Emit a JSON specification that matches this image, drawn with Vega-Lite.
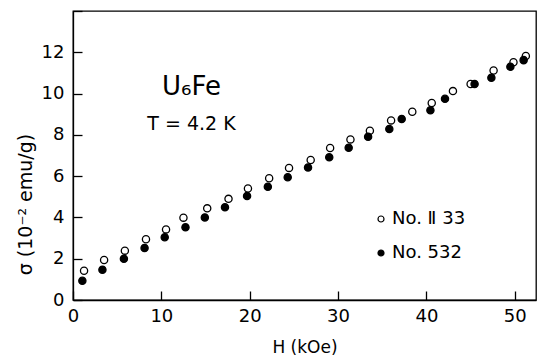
{
  "$schema": "https://vega.github.io/schema/vega-lite/v6.json",
  "width": 463,
  "height": 289,
  "autosize": "none",
  "padding": {"left": 73, "top": 11, "right": 1, "bottom": 58},
  "background": "white",
  "config": {
    "font": "DejaVu Sans",
    "view": {"stroke": "black", "strokeWidth": 1.3}
  },
  "title": {
    "text": "U₆Fe",
    "subtitle": "T = 4.2 K",
    "anchor": "middle",
    "frame": "group",
    "dx": -113,
    "dy": 128,
    "fontSize": 26,
    "fontWeight": "normal",
    "color": "black",
    "subtitleFontSize": 19,
    "subtitleColor": "black",
    "subtitlePadding": 15,
    "font": "DejaVu Sans",
    "subtitleFont": "DejaVu Sans"
  },
  "data": {
    "values": [
      {"H": 1.25, "sigma": 1.42, "sample": "No. Ⅱ 33"},
      {"H": 3.52, "sigma": 1.94, "sample": "No. Ⅱ 33"},
      {"H": 5.87, "sigma": 2.39, "sample": "No. Ⅱ 33"},
      {"H": 8.26, "sigma": 2.94, "sample": "No. Ⅱ 33"},
      {"H": 10.53, "sigma": 3.42, "sample": "No. Ⅱ 33"},
      {"H": 12.5, "sigma": 3.99, "sample": "No. Ⅱ 33"},
      {"H": 15.19, "sigma": 4.44, "sample": "No. Ⅱ 33"},
      {"H": 17.6, "sigma": 4.9, "sample": "No. Ⅱ 33"},
      {"H": 19.8, "sigma": 5.4, "sample": "No. Ⅱ 33"},
      {"H": 22.2, "sigma": 5.9, "sample": "No. Ⅱ 33"},
      {"H": 24.45, "sigma": 6.4, "sample": "No. Ⅱ 33"},
      {"H": 26.9, "sigma": 6.78, "sample": "No. Ⅱ 33"},
      {"H": 29.1, "sigma": 7.36, "sample": "No. Ⅱ 33"},
      {"H": 31.4, "sigma": 7.78, "sample": "No. Ⅱ 33"},
      {"H": 33.6, "sigma": 8.2, "sample": "No. Ⅱ 33"},
      {"H": 36.0, "sigma": 8.7, "sample": "No. Ⅱ 33"},
      {"H": 38.4, "sigma": 9.12, "sample": "No. Ⅱ 33"},
      {"H": 40.6, "sigma": 9.54, "sample": "No. Ⅱ 33"},
      {"H": 43.0, "sigma": 10.12, "sample": "No. Ⅱ 33"},
      {"H": 45.0, "sigma": 10.46, "sample": "No. Ⅱ 33"},
      {"H": 47.6, "sigma": 11.12, "sample": "No. Ⅱ 33"},
      {"H": 49.85, "sigma": 11.52, "sample": "No. Ⅱ 33"},
      {"H": 51.25, "sigma": 11.82, "sample": "No. Ⅱ 33"},
      {"H": 1.06, "sigma": 0.93, "sample": "No. 532"},
      {"H": 3.33, "sigma": 1.47, "sample": "No. 532"},
      {"H": 5.76, "sigma": 2.0, "sample": "No. 532"},
      {"H": 8.1, "sigma": 2.52, "sample": "No. 532"},
      {"H": 10.38, "sigma": 3.04, "sample": "No. 532"},
      {"H": 12.73, "sigma": 3.52, "sample": "No. 532"},
      {"H": 14.92, "sigma": 4.0, "sample": "No. 532"},
      {"H": 17.2, "sigma": 4.49, "sample": "No. 532"},
      {"H": 19.7, "sigma": 5.04, "sample": "No. 532"},
      {"H": 22.05, "sigma": 5.49, "sample": "No. 532"},
      {"H": 24.3, "sigma": 5.95, "sample": "No. 532"},
      {"H": 26.6, "sigma": 6.42, "sample": "No. 532"},
      {"H": 29.0, "sigma": 6.91, "sample": "No. 532"},
      {"H": 31.2, "sigma": 7.38, "sample": "No. 532"},
      {"H": 33.4, "sigma": 7.91, "sample": "No. 532"},
      {"H": 35.8, "sigma": 8.28, "sample": "No. 532"},
      {"H": 37.2, "sigma": 8.77, "sample": "No. 532"},
      {"H": 40.45, "sigma": 9.19, "sample": "No. 532"},
      {"H": 42.1, "sigma": 9.75, "sample": "No. 532"},
      {"H": 45.45, "sigma": 10.46, "sample": "No. 532"},
      {"H": 47.35, "sigma": 10.77, "sample": "No. 532"},
      {"H": 49.5, "sigma": 11.3, "sample": "No. 532"},
      {"H": 51.0, "sigma": 11.62, "sample": "No. 532"}
    ]
  },
  "mark": {"type": "point", "shape": "circle", "filled": true, "stroke": "black", "strokeWidth": 1.3, "size": 52, "opacity": 1},
  "encoding": {
    "x": {"field": "H", "type": "quantitative", "scale": {"domain": [0, 52.4], "nice": false, "zero": false},
      "axis": {"tickCount": 6, "gridOpacity": 0, "domainColor": "black", "domainWidth": 1.3, "tickSize": -9, "tickWidth": 1.3, "tickColor": "black", "labelColor": "black", "labelFont": "DejaVu Sans", "labelPadding": 16, "labelFontSize": 18, "labelFlush": false, "title": "H (kOe)", "titleFont": "DejaVu Sans", "titleFontWeight": "normal", "titleColor": "black", "titleFontSize": 17, "titlePadding": 14}},
    "y": {"field": "sigma", "type": "quantitative", "scale": {"domain": [0, 14], "nice": false, "zero": false},
      "axis": {"tickCount": 7, "gridOpacity": 0, "domainColor": "black", "domainWidth": 1.3, "tickSize": -9, "tickWidth": 1.3, "tickColor": "black", "labelColor": "black", "labelFont": "DejaVu Sans", "labelPadding": 18, "labelFontSize": 18, "labelFlush": false, "labelExpr": "datum.value > 13 ? '' : datum.label", "title": "σ (10⁻² emu/g)", "titleFont": "DejaVu Sans", "titleFontWeight": "normal", "titleColor": "black", "titleFontSize": 19, "titleX": -48, "titleY": 193, "titleAngle": -90, "titleBaseline": "middle"}},
    "fill": {"field": "sample", "type": "nominal",
      "scale": {"domain": ["No. Ⅱ 33", "No. 532"], "range": ["white", "black"]},
      "legend": {"title": null, "orient": "none", "legendX": 299, "legendY": 199, "padding": 0, "symbolType": "circle", "symbolSize": 36, "symbolStrokeColor": "black", "symbolStrokeWidth": 1.2, "labelFontSize": 18, "labelColor": "black", "labelFont": "DejaVu Sans", "rowPadding": 16, "labelOffset": 2}}
  }
}
